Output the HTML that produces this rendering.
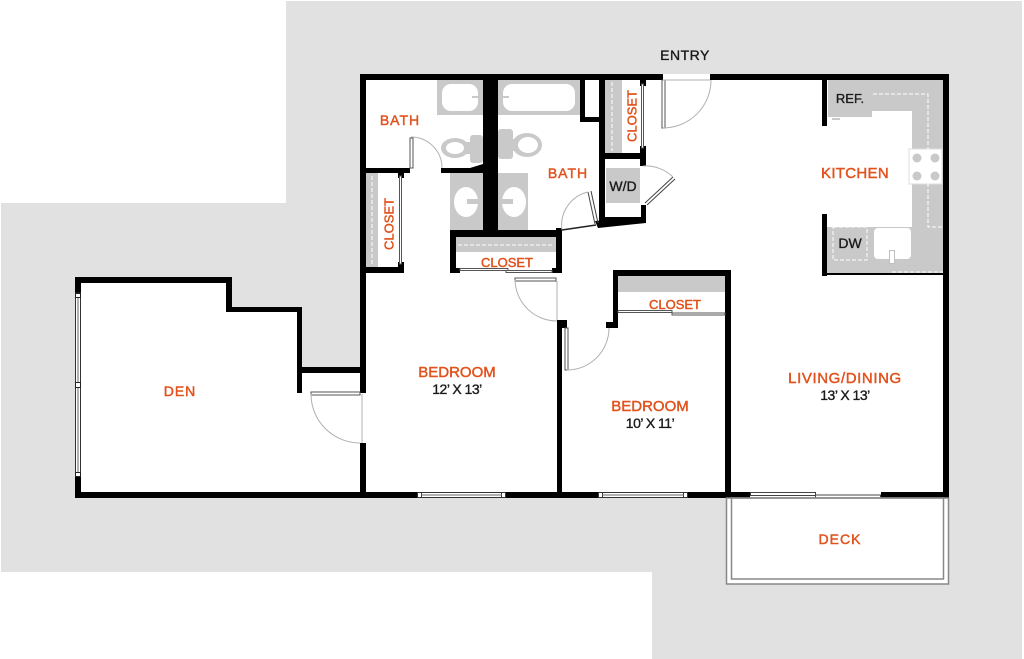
<!DOCTYPE html>
<html><head><meta charset="utf-8"><style>
html,body{margin:0;padding:0;background:#fff;}
svg{display:block;}
text{font-family:"Liberation Sans",Arial,sans-serif;}
.o{fill:#e2521c;stroke:#e2521c;stroke-width:0.45px;font-size:15px;}
.k{fill:#1a1a1a;stroke:#1a1a1a;stroke-width:0.35px;}
</style></head><body>
<svg width="1024" height="659" viewBox="0 0 1024 659" xmlns="http://www.w3.org/2000/svg">
<rect width="1024" height="659" fill="#fff"/>
<polygon points="286,1 1022,1 1022,659 652,659 652,572 1,572 1,203 286,203" fill="#e1e1e1"/>
<!-- interiors -->
<rect x="360" y="74" width="589" height="424" fill="#fff"/>
<polygon points="75,277 232,277 232,307 302,307 302,367 366,367 366,498 75,498" fill="#fff"/>
<rect x="726" y="498" width="223" height="86" fill="#fff"/>

<!-- fixtures gray -->
<g fill="#c9c9c9">
 <rect x="437" y="80" width="46" height="35"/>
 <rect x="498" y="80" width="82" height="35"/>
 <rect x="470" y="135" width="13" height="28" rx="3"/>
 <ellipse cx="455" cy="148" rx="14" ry="10"/>
 <rect x="462" y="142" width="10" height="12"/>
 <rect x="498" y="129" width="15" height="30" rx="3"/>
 <ellipse cx="527" cy="145" rx="15" ry="12"/>
 <rect x="510" y="139" width="8" height="12"/>
 <rect x="450" y="173" width="33" height="57"/>
 <rect x="498" y="173" width="30" height="57"/>
 <rect x="366" y="173" width="12" height="94"/>
 <rect x="456" y="237" width="100" height="15"/>
 <rect x="605" y="80" width="17" height="73"/>
 <rect x="606" y="168" width="34" height="35"/>
 <rect x="618" y="276" width="107" height="16"/>
 <rect x="828" y="80" width="44" height="37"/>
 <rect x="872" y="80" width="71" height="31"/>
 <rect x="912" y="80" width="31" height="195"/>
 <rect x="827" y="227" width="116" height="46"/>
 <rect x="832" y="118" width="8" height="2"/>
</g>
<g fill="#fff">
 <rect x="442" y="84" width="36" height="27" rx="9"/>
 <rect x="503" y="84" width="72" height="27" rx="9"/>
 <ellipse cx="455" cy="148" rx="9" ry="6"/>
 <ellipse cx="528" cy="145" rx="10" ry="8"/>
 <ellipse cx="466" cy="202" rx="12" ry="15"/>
 <ellipse cx="514" cy="202" rx="12" ry="15"/>
 <rect x="874" y="228" width="37" height="31" rx="4"/>
 <rect x="909" y="149" width="33" height="35" stroke="#ddd" stroke-width="1"/>
</g>
<g fill="#c9c9c9">
 <rect x="472" y="96" width="6" height="2"/>
 <rect x="503" y="96" width="6" height="2"/>
 <rect x="467" y="199" width="11" height="5"/>
 <rect x="502" y="199" width="11" height="5"/>
 <circle cx="917" cy="158" r="4.5"/><circle cx="935" cy="158" r="4.5"/>
 <circle cx="917" cy="176" r="4.5"/><circle cx="935" cy="176" r="4.5"/>
</g>
<rect x="889.5" y="250.5" width="5" height="13" fill="#fff" stroke="#c0c0c0"/>
<g stroke="#fff" stroke-width="1" stroke-dasharray="4,2" fill="none">
 <line x1="372" y1="176" x2="372" y2="265"/>
 <line x1="458" y1="245" x2="554" y2="245"/>
 <line x1="612" y1="82" x2="612" y2="151"/>
 <polyline points="873,94 928,94 928,227 943,227"/>
 <rect x="833" y="227" width="34" height="33"/>
 <line x1="892" y1="272" x2="943" y2="272"/>
</g>

<!-- walls -->
<g fill="#000">
 <rect x="360" y="74" width="303" height="6"/>
 <rect x="710" y="74" width="239" height="6"/>
 <rect x="943" y="74" width="6" height="424"/>
 <rect x="360" y="74" width="6" height="319"/>
 <rect x="360" y="443" width="6" height="55"/>
 <rect x="75" y="492" width="874" height="6"/>
 <rect x="483" y="74" width="15" height="158"/>
 <rect x="366" y="168" width="44" height="5"/>
 <polygon points="441,168 470,168 483,164 483,173 441,173"/>
 <rect x="360" y="267" width="42" height="6"/>
 <rect x="398" y="173" width="6" height="5"/>
 <rect x="398" y="262" width="6" height="11"/>
 <rect x="450" y="230" width="112" height="7"/>
 <rect x="450" y="230" width="6" height="43"/>
 <rect x="556" y="228" width="6" height="45"/>
 <rect x="450" y="268" width="10" height="5"/>
 <rect x="552" y="268" width="10" height="5"/>
 <rect x="580" y="80" width="5" height="42"/>
 <rect x="580" y="117" width="20" height="5"/>
 <rect x="599" y="74" width="6" height="149"/>
 <rect x="640" y="80" width="6" height="6"/>
 <rect x="640" y="146" width="6" height="20"/>
 <rect x="600" y="153" width="46" height="6"/>
 <rect x="641" y="205" width="5" height="18"/>
 <rect x="600" y="217" width="46" height="6"/>
 <polygon points="595,221 646,217 646,223 598,228"/>
 <rect x="557" y="320" width="5" height="178"/>
 <rect x="557" y="320" width="10" height="8"/>
 <rect x="606" y="322" width="12" height="6"/>
 <rect x="613" y="270" width="5" height="58"/>
 <rect x="613" y="270" width="118" height="6"/>
 <rect x="725" y="270" width="6" height="228"/>
 <rect x="822" y="80" width="5" height="46"/>
 <rect x="822" y="214" width="5" height="62"/>
 <rect x="827" y="273" width="116" height="2"/>
 <rect x="75" y="277" width="157" height="6"/>
 <rect x="226" y="277" width="6" height="35"/>
 <rect x="226" y="307" width="76" height="5"/>
 <rect x="297" y="307" width="5" height="86"/>
 <rect x="297" y="367" width="69" height="6"/>
 <rect x="75" y="277" width="6" height="16"/>
 <rect x="75" y="476" width="6" height="22"/>
</g>

<rect x="75.5" y="293" width="5" height="183" fill="#fff" stroke="#333" stroke-width="1"/>
<line x1="78" y1="293" x2="78" y2="476" stroke="#666" stroke-width="1"/>
<g fill="#fff" stroke="#222" stroke-width="1">
 <rect x="75.5" y="293.5" width="5" height="4"/>
 <rect x="75.5" y="382.5" width="5" height="5"/>
 <rect x="75.5" y="472.5" width="5" height="4"/>
</g>
<g fill="#fff" stroke="#333" stroke-width="1">
 <rect x="417.5" y="492.5" width="88" height="5"/>
 <rect x="598.5" y="492.5" width="89" height="5"/>
 <rect x="417.5" y="492.5" width="4" height="5"/>
 <rect x="501.5" y="492.5" width="4" height="5"/>
 <rect x="598.5" y="492.5" width="4" height="5"/>
 <rect x="683.5" y="492.5" width="4" height="5"/>
</g>
<line x1="421" y1="495" x2="502" y2="495" stroke="#666"/>
<line x1="602" y1="495" x2="684" y2="495" stroke="#666"/>
<rect x="750" y="491" width="131" height="8" fill="#fff"/>
<rect x="750.5" y="492.5" width="65" height="3" fill="none" stroke="#444"/>
<rect x="815.5" y="495" width="65" height="3" fill="none" stroke="#444"/>

<rect x="726.5" y="498" width="222" height="86" fill="none" stroke="#888" stroke-width="1.5"/>
<rect x="731.5" y="498" width="212" height="81" fill="none" stroke="#888" stroke-width="1.5"/>

<g fill="#fff" stroke="#555" stroke-width="1">
 <rect x="662" y="80" width="3" height="48"/>
 <rect x="410" y="138" width="3" height="30"/>
 <rect x="515" y="278" width="41" height="3"/>
 <rect x="565" y="328" width="3" height="42"/>
 <rect x="311" y="392" width="49" height="3"/>
 <rect x="399.5" y="176" width="2" height="88"/>
 <rect x="641.5" y="84" width="2" height="64"/>
 <rect x="460" y="268.5" width="48" height="2"/>
 <rect x="506" y="270.5" width="46" height="2"/>
 <rect x="618" y="310.5" width="54" height="2"/>
 <rect x="672" y="313" width="53" height="2"/>
</g>
<g stroke="#444" stroke-width="1" fill="none">
 <line x1="645" y1="203" x2="673" y2="177"/>
 <line x1="647" y1="205" x2="675" y2="179"/>
 <line x1="588" y1="192" x2="595" y2="224"/>
 <line x1="591" y1="191" x2="598" y2="223"/>
</g>
<g stroke="#b0b0b0" stroke-width="1" fill="none">
 <path d="M663,128 A48,48 0 0 0 711,80"/>
 <path d="M411,137 A31,31 0 0 1 442,168"/>
 <path d="M588,192 A34,34 0 0 0 562,230"/>
 <path d="M515,280 A42,42 0 0 0 557,321"/>
 <path d="M567,370 A42,42 0 0 0 609,328"/>
 <path d="M311,394 A49,49 0 0 0 360,443"/>
 <path d="M643,166 A39,39 0 0 1 673,177"/>
 <line x1="557" y1="281" x2="557" y2="320"/>
 <line x1="362" y1="394" x2="362" y2="443"/>
 <line x1="663" y1="80" x2="710" y2="80"/>
</g>
<line x1="562" y1="230" x2="596" y2="225" stroke="#222" stroke-width="1.5"/>

<text x="685" y="60" text-anchor="middle" class="k" font-size="14" letter-spacing="0.5">ENTRY</text>
<text x="400" y="125" text-anchor="middle" class="o" style="font-size:14px" letter-spacing="1">BATH</text>
<text x="568" y="178" text-anchor="middle" class="o" style="font-size:14px" letter-spacing="1">BATH</text>
<text x="855" y="178" text-anchor="middle" class="o" letter-spacing="0.3">KITCHEN</text>
<text x="850" y="103" text-anchor="middle" class="k" font-size="13">REF.</text>
<text x="850" y="248" text-anchor="middle" class="k" font-size="14">DW</text>
<text x="623" y="191" text-anchor="middle" class="k" font-size="14">W/D</text>
<text x="389" y="228.5" text-anchor="middle" class="o" style="font-size:13px" transform="rotate(-90 389 224)">CLOSET</text>
<text x="632" y="120.5" text-anchor="middle" class="o" style="font-size:13px" transform="rotate(-90 632 116)">CLOSET</text>
<text x="507" y="267" text-anchor="middle" class="o" style="font-size:13px">CLOSET</text>
<text x="675" y="309" text-anchor="middle" class="o" style="font-size:13px">CLOSET</text>
<text x="457" y="377" text-anchor="middle" class="o">BEDROOM</text>
<text x="457" y="394" text-anchor="middle" class="k" font-size="14" letter-spacing="-0.5">12’ X 13’</text>
<text x="650" y="411" text-anchor="middle" class="o">BEDROOM</text>
<text x="650" y="428" text-anchor="middle" class="k" font-size="14" letter-spacing="-0.5">10’ X 11’</text>
<text x="845" y="383" text-anchor="middle" class="o" letter-spacing="0.6">LIVING/DINING</text>
<text x="845" y="400" text-anchor="middle" class="k" font-size="14" letter-spacing="-0.5">13’ X 13’</text>
<text x="180" y="396" text-anchor="middle" class="o" style="font-size:14px" letter-spacing="1">DEN</text>
<text x="840" y="544" text-anchor="middle" class="o" style="font-size:14px" letter-spacing="1">DECK</text>
</svg>
</body></html>
